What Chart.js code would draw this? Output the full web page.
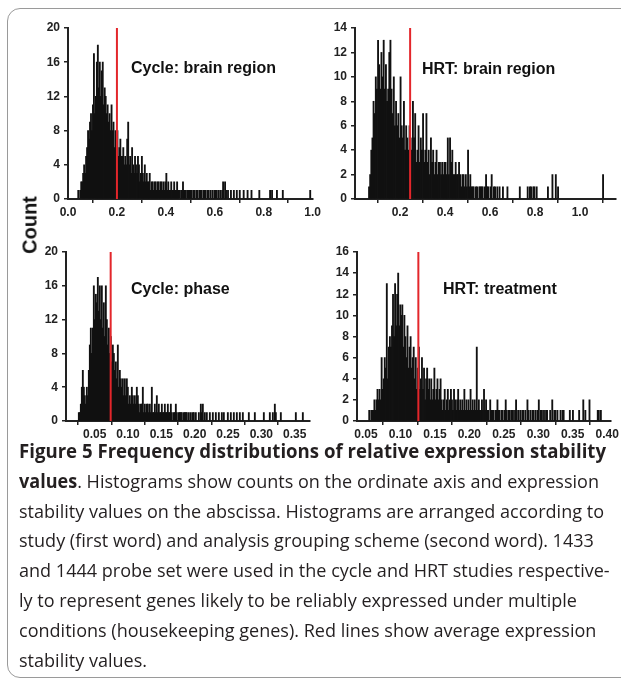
<!DOCTYPE html>
<html>
<head>
<meta charset="utf-8">
<script src="https://cdn.jsdelivr.net/npm/chart.js@4.4.1/dist/chart.umd.min.js"></script>
<style>
body{margin:0;width:621px;height:681px;overflow:hidden;background:#fff;position:relative;font-family:"Liberation Sans",Arial,sans-serif}
.frame{position:absolute;left:7px;top:8px;width:700px;height:668px;border:1px solid #9a9a9a;border-radius:13px}
.panel{position:absolute}
.title{position:absolute;font-weight:bold;font-size:16px;line-height:16px;color:#111;white-space:nowrap}
#count{position:absolute;left:30px;top:225px;font-weight:bold;font-size:20px;color:#111;white-space:nowrap;transform:translate(-50%,-50%) rotate(-90deg)}
#caption{position:absolute;left:19px;top:437px;font-family:"Open Sans",sans-serif;font-size:19px;line-height:29.8px;color:#231f20}
#caption div{white-space:nowrap;transform-origin:0 0;width:max-content}
</style>
</head>
<body>
<div class="frame"></div>

<div class="panel" style="left:20px;top:15px"><canvas id="c1" width="303" height="212"></canvas></div>
<div class="panel" style="left:318px;top:15px"><canvas id="c2" width="303" height="212"></canvas></div>
<div class="panel" style="left:20px;top:238px"><canvas id="c3" width="295" height="212"></canvas></div>
<div class="panel" style="left:318px;top:238px"><canvas id="c4" width="303" height="212"></canvas></div>

<div class="title" style="left:131px;top:60px">Cycle: brain region</div>
<div class="title" style="left:422px;top:61px">HRT: brain region</div>
<div class="title" style="left:131px;top:281px">Cycle: phase</div>
<div class="title" style="left:443px;top:281px">HRT: treatment</div>
<div id="count">Count</div>

<div id="caption">
<div><b>Figure 5 Frequency distributions of relative expression stability</b></div>
<div><b>values</b>. Histograms show counts on the ordinate axis and expression</div>
<div>stability values on the abscissa. Histograms are arranged according to</div>
<div>study (first word) and analysis grouping scheme (second word). 1433</div>
<div>and 1444 probe set were used in the cycle and HRT studies respective-</div>
<div>ly to represent genes likely to be reliably expressed under multiple</div>
<div>conditions (housekeeping genes). Red lines show average expression</div>
<div>stability values.</div>
</div>

<script>
// Cycle: brain region, bins of 0.004 starting at 0.04
const cycleBrainStart = 0.04
const cycleBrainBin = 0.004
const cycleBrainCounts = [
1,0,1,2,2, 3,4,3,5,6, 8,7,9,10,8, 11,17,10,12,16, 18,13,16,12,15, 16,11,13,12,10,
11,9,10,8,11, 8,9,6,8,7, 8,5,6,7,5, 5,6,4,5,4, 7,9,4,5,3, 6,4,3,5,4,
3,5,4,2,3, 5,3,2,4,2, 3,2,2,3,1, 2,2,1,2,2, 1,2,2,1,2, 2,1,2,1,2,
3,1,2,1,1, 2,1,1,2,1, 1,2,1,1,0, 1,1,2,1,1, 1,0,1,1,1, 1,1,0,1,1,
0,1,1,0,1, 1,1,0,1,1, 1,0,1,1,0, 1,0,1,0,1, 1,1,0,1,0, 1,0,1,2,0,
2,1,0,1,0, 0,1,0,0,1, 0,0,1,0,0, 1,0,0,0,1, 0,0,0,1,0, 0,0,1,0,0,
0,0,0,0,0, 1,0,0,0,0, 0,0,0,0,0, 0,1,0,1,0, 0,0,0,1,0, 0,0,0,0,1,
0,0,0,0,0, 0,0,0,0,0, 0,0,0,0,0, 0,0,0,0,0, 0,0,0,0,0, 0,0,1,0,0
]
const cycleBrainMean = 0.2

// HRT: brain region, bins of 0.005 starting at 0.06
const hrtBrainStart = 0.06
const hrtBrainBin = 0.005
const hrtBrainCounts = [
1,2,4,5, 8,7,10,9, 13,11,9,12, 10,13,9,11, 8,9,12,13, 9,7,10,6, 8,6,7,5, 10,6,5,8,
4,6,5,4, 6,5,4,8, 5,7,3,4, 6,3,5,4, 7,3,4,7, 3,4,2,5, 3,4,2,3, 4,2,3,3,
2,3,2,3, 3,2,5,2, 5,3,4,2, 2,3,2,2, 3,2,1,2, 2,1,2,1, 4,1,2,1, 1,1,0,1,
1,0,1,1, 1,1,0,1, 2,1,1,0, 1,2,0,1, 1,0,1,0, 1,0,0,1, 0,0,0,1, 0,0,0,0,
0,0,0,0, 0,0,1,0, 0,0,0,0, 0,1,0,1, 1,0,1,1, 0,1,0,0, 0,0,0,0, 0,0,0,1,
0,0,0,2, 0,0,2,0, 1,0,0,0, 0,0,0,0, 0,0,0,0, 0,0,0,0, 0,0,0,0, 0,0,0,0,
0,0,0,0, 0,0,0,0, 0,0,0,0, 0,0,0,0, 2,0,0,0
]
const hrtBrainMean = 0.245

// Cycle: phase, bins of 0.0015 starting at 0.024
const cyclePhaseStart = 0.024
const cyclePhaseBin = 0.0015
const cyclePhaseCounts = [
0,1,1,2, 4,6,4,3, 2,4,3,6, 9,11,8,11, 16,12,15,14, 17,13,16,12, 16,11,14,10, 16,12,9,11,
8,10,7,9, 8,6,7,5, 9,4,6,5, 4,5,3,5, 3,5,4,2, 3,2,4,3, 2,3,2,4, 3,2,1,2,
2,4,1,2, 1,2,2,1, 2,1,4,1, 1,2,1,3, 1,2,1,1, 2,1,1,2, 1,1,2,1, 1,2,1,0,
1,1,2,1, 0,1,1,1, 1,0,1,1, 1,1,0,1, 0,1,0,1, 1,0,1,0, 0,1,0,2, 1,2,0,1,
0,1,0,0, 1,0,0,1, 0,0,1,0, 0,1,0,0, 1,0,1,0, 0,0,1,0, 0,1,0,0, 1,0,0,1,
0,0,1,0, 0,1,0,0, 0,0,0,1, 0,0,0,0, 0,1,0,0, 0,0,0,0, 0,0,1,0, 0,0,0,0,
1,0,0,1, 0,2,1,0, 0,0,0,1, 0,0,0,0, 0,0,0,0, 0,0,0,0, 0,0,1,0, 0,0,0,0,
0,1,0,0, 0,0,0,0
]
const cyclePhaseMean = 0.074

// HRT: treatment, bins of 0.0015 starting at 0.054
const hrtTreatStart = 0.054
const hrtTreatBin = 0.0015
const hrtTreatCounts = [
1,0,1,1, 1,2,1,2, 3,2,3,2, 6,3,4,6, 5,13,4,7, 8,7,9,12, 8,13,9,12, 14,9,11,10,
11,7,10,8, 6,9,5,7, 8,5,6,7, 4,6,3,5, 7,3,4,6, 3,5,2,4, 5,3,4,2, 4,2,3,5,
2,3,4,2, 3,4,2,1, 2,3,1,2, 3,1,2,3, 2,1,3,2, 1,2,3,1, 2,1,2,1, 3,1,2,1,
2,1,3,1, 2,1,2,1, 7,1,2,1, 1,2,1,3, 1,2,1,1, 0,2,1,1, 1,0,1,1, 2,1,1,0,
1,1,0,1, 2,1,0,1, 1,0,1,1, 0,1,2,0, 1,0,1,0, 1,1,0,1, 0,2,1,0, 1,0,1,1,
0,1,0,1, 2,0,1,1, 0,1,0,1, 1,0,0,1, 0,2,0,1, 1,0,1,0, 0,1,0,1, 1,0,0,0,
0,0,1,0, 0,1,0,0, 0,0,0,1, 0,0,0,2, 0,1,0,0, 0,2,0,0, 0,0,0,0, 0,1,1,0,
1,0,0,0, 0,0,0,0, 0,0
]
const hrtTreatMean = 0.126

// tick values
const ticksX1 = [0, 0.2, 0.4, 0.6, 0.8, 1.0]
const ticksX2 = [0.2, 0.4, 0.6, 0.8, 1.0]
const ticksX3 = [0.05, 0.10, 0.15, 0.20, 0.25, 0.30, 0.35]
const ticksX4 = [0.05, 0.10, 0.15, 0.20, 0.25, 0.30, 0.35, 0.40]
const ticksY1 = [0, 4, 8, 12, 16, 20]
const ticksY2 = [0, 2, 4, 6, 8, 10, 12, 14]
const ticksY3 = [0, 4, 8, 12, 16, 20]
const ticksY4 = [0, 2, 4, 6, 8, 10, 12, 14, 16]

const tickFont = {family:'"Liberation Sans", Arial, sans-serif', size:12, weight:'bold'}

const meanLine = {
  id:'meanLine',
  afterDatasetsDraw(chart, args, opts){
    const x = chart.scales.x.getPixelForValue(opts.value)
    const a = chart.chartArea
    const ctx = chart.ctx
    ctx.save()
    ctx.strokeStyle = '#e3262b'
    ctx.lineWidth = 2
    ctx.beginPath()
    ctx.moveTo(x, a.top)
    ctx.lineTo(x, a.bottom)
    ctx.stroke()
    ctx.restore()
  }
}

function histogram(id, counts, start, bin, mean, xMin, xMax, xTicks, digits, yMax, yTicks, box){
  const points = []
  counts.forEach((c, i) => {
    if (c > 0) points.push({x: start + bin * (i + 0.5), y: c})
  })

  new Chart(document.getElementById(id), {
    type:'bar',
    data:{datasets:[{data:points, backgroundColor:'#111', barThickness:1.2, borderWidth:0}]},
    plugins:[meanLine],
    options:{
      responsive:false,
      animation:false,
      devicePixelRatio:1,
      layout:{padding:{top:box.top, right:box.right, left:0, bottom:0}},
      plugins:{legend:{display:false}, tooltip:{enabled:false}, meanLine:{value:mean}},
      scales:{
        x:{
          type:'linear', min:xMin, max:xMax, offset:false,
          afterBuildTicks: s => { s.ticks = xTicks.map(v => ({value:v})) },
          afterFit: s => { s.height = box.xh },
          grid:{drawOnChartArea:false, drawTicks:true, tickLength:4, color:'#222', lineWidth:1.5},
          border:{display:true, color:'#222', width:2},
          ticks:{font:tickFont, color:'#222', padding:2, autoSkip:false, maxRotation:0,
                 callback: v => Number(v).toFixed(digits)}
        },
        y:{
          min:0, max:yMax,
          afterBuildTicks: s => { s.ticks = yTicks.map(v => ({value:v})) },
          afterFit: s => { s.width = box.yw },
          grid:{drawOnChartArea:false, drawTicks:true, tickLength:4, color:'#222', lineWidth:1.5},
          border:{display:true, color:'#222', width:2},
          ticks:{font:tickFont, color:'#222', padding:4, autoSkip:false, callback: v => String(v)}
        }
      }
    }
  })
}

histogram('c1', cycleBrainCounts, cycleBrainStart, cycleBrainBin, cycleBrainMean, 0, 1.0, ticksX1, 1, 20, ticksY1,
  {top:13, right:9, xh:28, yw:48})
histogram('c2', hrtBrainCounts, hrtBrainStart, hrtBrainBin, hrtBrainMean, 0, 1.16, ticksX2, 1, 14, ticksY2,
  {top:13, right:5, xh:28, yw:37})
histogram('c3', cyclePhaseCounts, cyclePhaseStart, cyclePhaseBin, cyclePhaseMean, 0.007, 0.373, ticksX3, 2, 20, ticksY3,
  {top:14, right:5, xh:29, yw:46})
histogram('c4', hrtTreatCounts, hrtTreatStart, hrtTreatBin, hrtTreatMean, 0.037, 0.405, ticksX4, 2, 16, ticksY4,
  {top:14, right:6, xh:29, yw:39})

// squeeze the caption to the printed column: bold first line on its own,
// the rest with one common factor taken from the third line
const lines = document.querySelectorAll('#caption div')
const k1 = 587 / lines[0].getBoundingClientRect().width
const k = 585 / lines[2].getBoundingClientRect().width
lines.forEach((el, i) => {
  el.style.transform = 'scaleX(' + (i === 0 ? k1 : k) + ')'
})
</script>
</body>
</html>
